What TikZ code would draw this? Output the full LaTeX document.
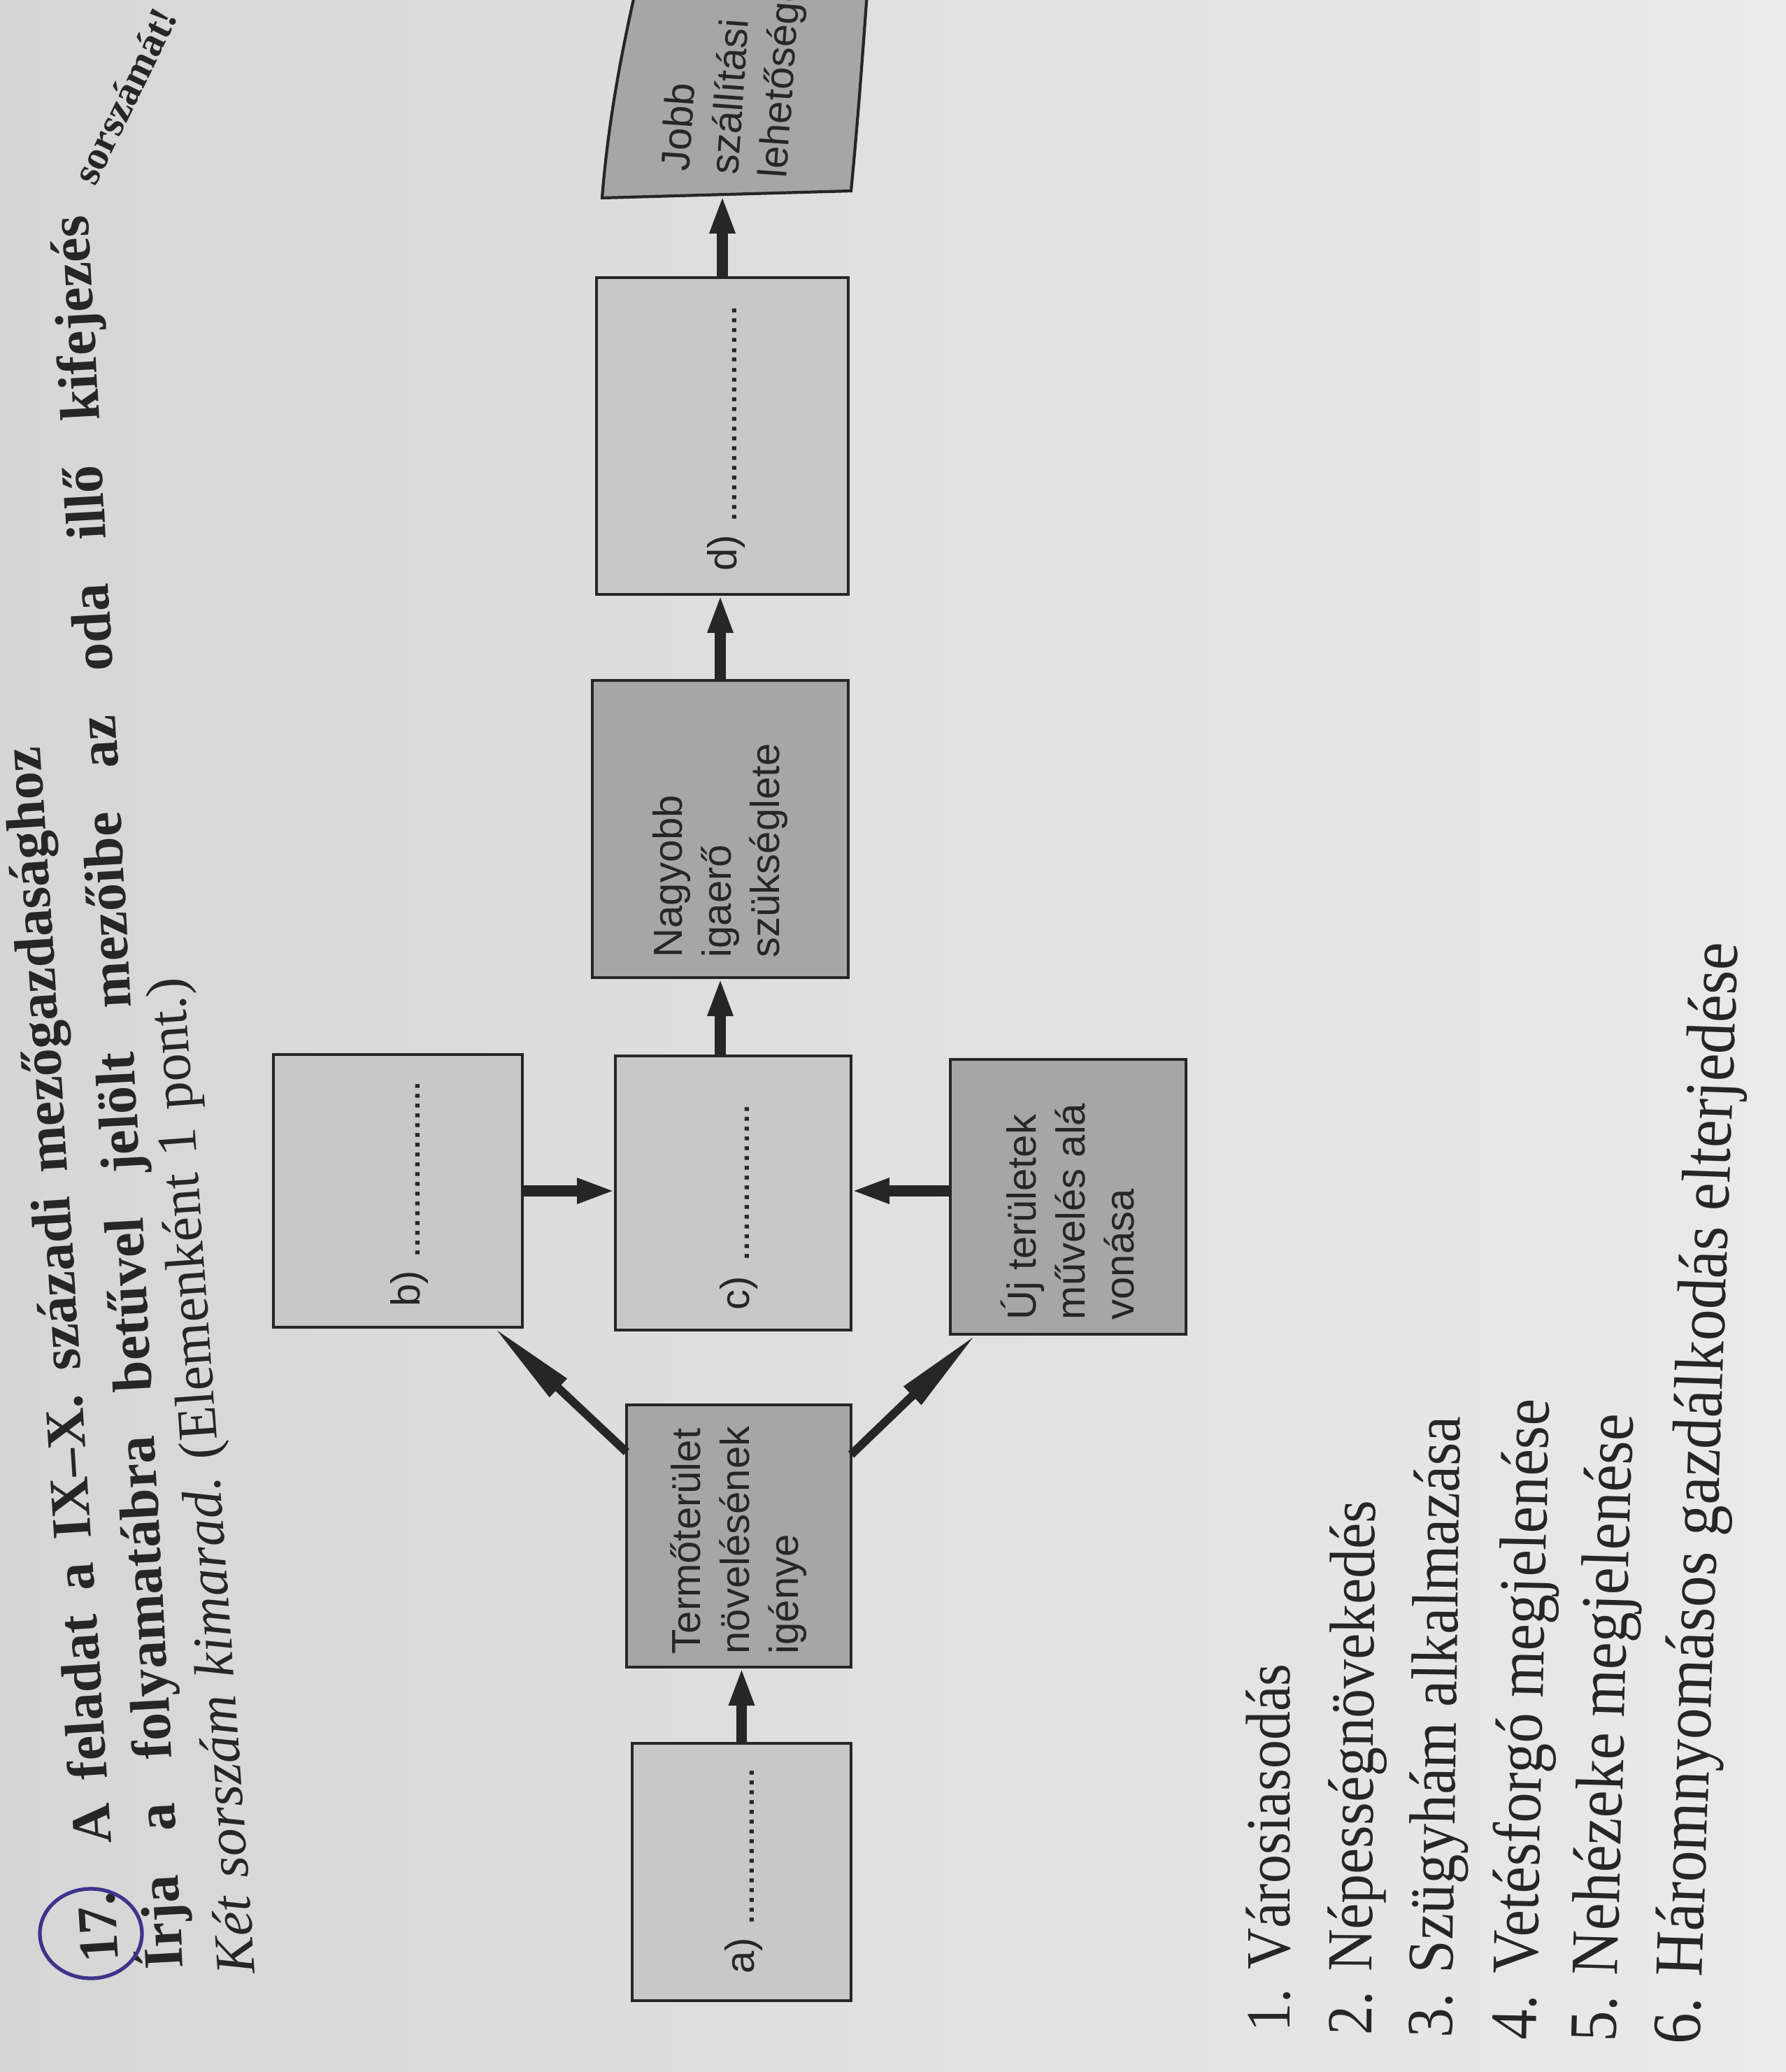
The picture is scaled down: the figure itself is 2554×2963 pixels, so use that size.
\documentclass[tikz,border=0pt]{standalone}
\usepackage{fontspec}
\setmainfont{Liberation Serif}
\newfontfamily\boxfont{Liberation Sans}
\usetikzlibrary{arrows.meta,calc}
\definecolor{paperL}{RGB}{214,214,214}
\definecolor{paperR}{RGB}{234,234,234}
\definecolor{lightfill}{RGB}{200,200,200}
\definecolor{darkfill}{RGB}{166,166,166}
\definecolor{ink}{RGB}{38,38,38}
\definecolor{pen}{RGB}{62,52,140}
\newcommand\dotrow[1]{\leaders\hbox to 0.14cm{\hss.\hss}\hskip #1\relax}
\tikzset{
  boxbase/.style={draw=ink, line width=1.2pt, inner sep=0pt, outer sep=0pt},
  lightbox/.style={boxbase, fill=lightfill},
  darkbox/.style={boxbase, fill=darkfill},
  boxlabel/.style={anchor=west, inner sep=0pt, align=left, text=ink,
    font=\boxfont\fontsize{16.5pt}{19.9pt}\selectfont},
  flow/.style={draw=ink, line width=4.5pt, -{Triangle[length=15.6pt,width=9.4pt]}},
  diag/.style={draw=ink, line width=3.4pt, -{Triangle[length=36pt,width=9.5pt]}},
  headline/.style={anchor=base west, inner sep=0pt, text=ink,
    font=\fontsize{22.8pt}{27pt}\selectfont},
  listline/.style={anchor=base west, inner sep=0pt, text=ink},
}
\begin{document}
\begin{tikzpicture}[x=0.01cm,y=-0.01cm]
\useasboundingbox (0,0) rectangle (2554,2963);
\clip (0,0) rectangle (2554,2963);
\shade[left color=paperL,right color=paperR] (0,0) rectangle (2554,2963);

% boxes
\node[lightbox, minimum width=3.13cm, minimum height=3.68cm] (a) at (1060.5,2677) {};
\node[darkbox, minimum width=3.21cm, minimum height=3.75cm] (termo) at (1056.5,2196.5) {};
\node[lightbox, minimum width=3.56cm, minimum height=3.90cm] (b) at (569,1703) {};
\node[lightbox, minimum width=3.37cm, minimum height=3.92cm] (c) at (1048.5,1706) {};
\node[darkbox, minimum width=3.37cm, minimum height=3.93cm] (uj) at (1527.5,1711.5) {};
\node[darkbox, minimum width=3.66cm, minimum height=4.25cm] (nagy) at (1030,1185.5) {};
\node[lightbox, minimum width=3.60cm, minimum height=4.53cm] (d) at (1033,623.5) {};
\path[draw=ink, line width=1.2pt, fill=darkfill] (861,283) -- (1217,273)
  .. controls (1228,160) and (1234,70) .. (1240,-10) -- (908,-10)
  .. controls (890,70) and (870,170) .. (861,283) -- cycle;
\coordinate (jobbb) at (1025,279);

% connectors
\draw[flow] (a.north) -- (a.north |- termo.south);
\draw[diag] ($(termo.north west)!0.18!(termo.south west)$) -- ($(b.south east)!0.115!(b.south west)$);
\draw[diag] ($(termo.north east)!0.19!(termo.south east)$) -- ($(uj.south west)!0.11!(uj.south east)$);
\draw[flow] (b.east) -- (b.east -| c.west);
\draw[flow] (uj.west |- b.east) -- (c.east |- b.east);
\draw[flow] (c.north -| nagy.south) -- (nagy.south);
\draw[flow] (nagy.north) -- (nagy.north |- d.south);
\draw[flow] (d.north) -- (d.north |- jobbb);

% box labels
\node[boxlabel, rotate=90] (ta) at (1063,2823) {a) \dotrow{2.36cm}};
\node[boxlabel, rotate=90] (tb) at (585,1869) {b) \dotrow{2.62cm}};
\node[boxlabel, rotate=90] (tc) at (1056,1874) {c) \dotrow{2.43cm}};
\node[boxlabel, rotate=90] (td) at (1038,817) {d) \dotrow{3.12cm}};
\node[boxlabel, rotate=90] (tt) at (1056,2366) {Termőterület\\növelésének\\igénye};
\node[boxlabel, rotate=90] (tn) at (1030,1370) {Nagyobb\\igaerő\\szükséglete};
\node[boxlabel, rotate=90] (tu) at (1527,1888) {Új területek\\művelés alá\\vonása};
\node[boxlabel, rotate=86] (tj) at (1040,250) {Jobb\\szállítási\\lehetőségei};

% heading
\node[headline, rotate=93.7] (h1) at (170,2805) {\bfseries\makebox[17.4cm][s]{17. A feladat a IX–X. századi mezőgazdasághoz}};
\node[headline, rotate=93.1] (h2) at (262,2815) {\bfseries\makebox[25.09cm][s]{Írja a folyamatábra betűvel jelölt mezőibe az oda illő kifejezés}};
\node[headline, rotate=64, font=\bfseries\fontsize{16.5pt}{20pt}\selectfont] (h2b) at (136,268) {sorszámát!};
\node[headline, rotate=94.1] (h3) at (365,2822) {\makebox[14.27cm][s]{\itshape Két sorszám kimarad.\upshape\ (Elemenként 1 pont.)}};
\draw[pen, line width=1.5pt] (130,2765) ellipse [x radius=73, y radius=64];

% list
\node[listline, rotate=90, yscale=1.1, font=\fontsize{23.3pt}{28pt}\selectfont] (l1) at (1844,2906) {1. Városiasodás};
\node[listline, rotate=89.6, yscale=1.1, font=\fontsize{23.8pt}{28pt}\selectfont] (l2) at (1961,2911) {2. Népességnövekedés};
\node[listline, rotate=89.2, yscale=1.1, font=\fontsize{24.2pt}{28pt}\selectfont] (l3) at (2076,2915) {3. Szügyhám alkalmazása};
\node[listline, rotate=88.8, yscale=1.1, font=\fontsize{24.6pt}{28pt}\selectfont] (l4) at (2196,2918) {4. Vetésforgó megjelenése};
\node[listline, rotate=88.4, yscale=1.1, font=\fontsize{25pt}{28pt}\selectfont] (l5) at (2310,2921) {5. Nehézeke megjelenése};
\node[listline, rotate=88, yscale=1.1, font=\fontsize{25.5pt}{28pt}\selectfont] (l6) at (2430,2925) {6. Háromnyomásos gazdálkodás elterjedése};
\end{tikzpicture}
\end{document}
